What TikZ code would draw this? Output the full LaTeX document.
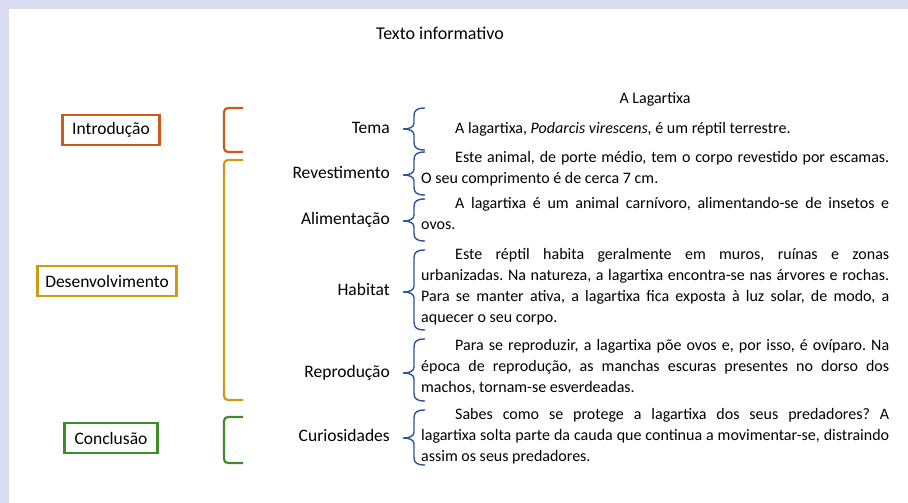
\documentclass[tikz,border=0pt]{standalone}
\usepackage{fontspec}
\setmainfont{Carlito}
\frenchspacing
\definecolor{lav}{HTML}{D9DCF0}
\definecolor{orangeb}{HTML}{D2581C}
\definecolor{goldb}{HTML}{CC9A14}
\definecolor{greenb}{HTML}{3F8A2C}
\definecolor{braceblue}{HTML}{2F5597}
\newcommand\wordbrace[3]{%
  \draw[brace] (425,#1) .. controls (417,#1) and (414,#1+2) .. (414,#1+8)
    -- (414,#2-6) .. controls (414,#2-2) and (410,#2) .. (403,#2)
    .. controls (410,#2) and (414,#2+2) .. (414,#2+6)
    -- (414,#3-8) .. controls (414,#3-2) and (417,#3) .. (425,#3);}
\begin{document}
\begin{tikzpicture}[x=1pt,y=-1pt,
  sec/.style={draw, line width=2.2pt, minimum height=30pt, inner xsep=6pt, font=\fontsize{17.5}{21}\selectfont},
  lab/.style={anchor=east, inner sep=0pt, text height=0.7em, text depth=0.25em, font=\fontsize{17.5}{21}\selectfont},
  body/.style={anchor=base west, inner sep=0pt, text width=468pt, align=justify, font=\fontsize{16}{21}\selectfont},
  head/.style={inner sep=0pt, text height=0.7em, text depth=0.25em},
  brk/.style={line width=2.2pt, rounded corners=4pt},
  brace/.style={draw=braceblue, line width=1.4pt}
]
\useasboundingbox (0,0) rectangle (908,503);
\fill[white] (0,0) rectangle (908,503);
\fill[lav] (0,0) rectangle (908,9);
\fill[lav] (0,0) rectangle (9,503);

\node[head, font=\fontsize{18}{21}\selectfont] (title) at (440,37) {Texto informativo};
\node[head, font=\fontsize{16}{21}\selectfont] (sub) at (655,101) {A Lagartixa};

\node[sec, draw=orangeb, minimum width=97pt] (intro) at (111,130) {Introdução};
\node[sec, draw=goldb, minimum width=139pt] (desen) at (107,281) {Desenvolvimento};
\node[sec, draw=greenb, minimum width=93pt] (concl) at (111,438) {Conclusão};

\draw[brk, draw=orangeb] (243,108) -- (224,108) -- (224,152) -- (243,152);
\draw[brk, draw=goldb] (243,160) -- (224,160) -- (224,400) -- (243,400);
\draw[brk, draw=greenb] (243,417) -- (224,417) -- (224,463) -- (243,463);

\node[lab] (tema) at (390,131) {Tema};
\node[lab] (rev) at (390,176) {Revestimento};
\node[lab] (alim) at (390,222) {Alimentação};
\node[lab] (hab) at (390,293) {Habitat};
\node[lab] (rep) at (390,375) {Reprodução};
\node[lab] (cur) at (390,439) {Curiosidades};

\wordbrace{108}{129}{150}
\wordbrace{152}{175}{195}
\wordbrace{199}{221}{241}
\wordbrace{250}{292}{330}
\wordbrace{339}{373}{401}
\wordbrace{410}{438}{465}

\node[body] (ttema) at (421,133) {\hspace*{34pt}A lagartixa, \textit{Podarcis virescens,} é um réptil terrestre.};
\node[body] (trev) at (421,162) {\hspace*{34pt}Este animal, de porte médio, tem o corpo revestido por escamas.\linebreak O seu comprimento é de cerca 7 cm.};
\node[body] (talim) at (421,208) {\hspace*{34pt}A lagartixa é um animal carnívoro, alimentando-se de insetos e\linebreak ovos.};
\node[body] (thab) at (421,259) {\hspace*{34pt}Este réptil habita geralmente em muros, ruínas e zonas\linebreak urbanizadas. Na natureza, a lagartixa encontra-se nas árvores e rochas.\linebreak Para se manter ativa, a lagartixa fica exposta à luz solar, de modo, a\linebreak aquecer o seu corpo.};
\node[body] (trep) at (421,350) {\hspace*{34pt}Para se reproduzir, a lagartixa põe ovos e, por isso, é ovíparo. Na\linebreak época de reprodução, as manchas escuras presentes no dorso dos\linebreak machos, tornam-se esverdeadas.};
\node[body] (tcur) at (421,419) {\hspace*{34pt}Sabes como se protege a lagartixa dos seus predadores? A\linebreak lagartixa solta parte da cauda que continua a movimentar-se, distraindo\linebreak assim os seus predadores.};
\end{tikzpicture}
\end{document}
